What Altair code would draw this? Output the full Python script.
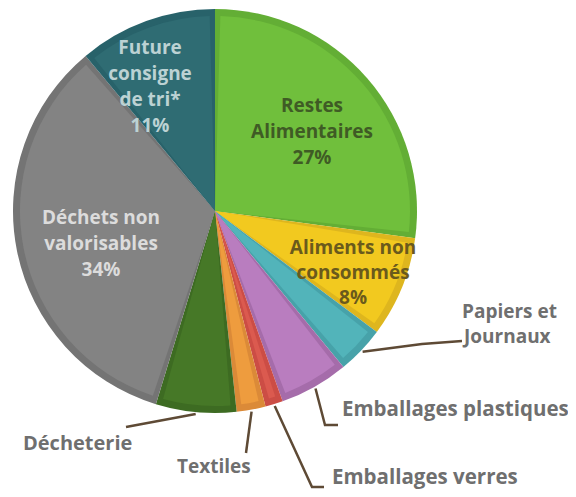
import altair as alt
import pandas as pd
import numpy as np

# ---- data ----
categories = ["Restes Alimentaires", "Aliments non consommés", "Papiers et Journaux",
              "Emballages plastiques", "Emballages verres", "Textiles", "Décheterie",
              "Déchets non valorisables", "Future consigne de tri*"]
shares = [27, 8, 3.8, 5.5, 1.4, 2.3, 6.4, 34, 11]
fill_colors = ["#70BF3C", "#F2C91F", "#52B4BA", "#B97DBF", "#DB5A4F", "#EE9C3E",
               "#467827", "#838383", "#2F6C73"]
edge_colors = ["#63AE35", "#DEB61E", "#47A2A9", "#A56CAA", "#CC4D45", "#DB8A38",
               "#3D6B22", "#747474", "#28626A"]

inner_lines = [
    ["Future", "consigne", "de tri*", "11%"],
    ["Restes", "Alimentaires", "27%"],
    ["Aliments non", "consommés", "8%"],
    ["Déchets non", "valorisables", "34%"],
]
outer_lines = [["Papiers et", "Journaux"], ["Emballages plastiques"], ["Emballages verres"],
               ["Textiles"], ["Décheterie"]]
outer_cats = ["Papiers et Journaux", "Emballages plastiques", "Emballages verres",
              "Textiles", "Décheterie"]

# ---- layout (pixel positions inside the plot frame) ----
W, H = 560, 481
CX, CY, R = 207, 203, 202
BORDER = 7
FONT = "Open Sans"
inner_pos = [(142, 40, 26, "#BCD2D3"), (304, 98, 26, "#3F5B25"),
             (345, 240, 25, "#6A5A1C"), (93, 210, 26, "#DCDCDC")]
outer_pos = [(454, 304, 25, 19), (334, 402, 25, 20.5), (324, 470, 25, 20.5),
             (169, 459, 25, 19), (15, 436, 25, 20)]
leader_bends = [[(414, 336), (454, 333)],
                [(317, 417), (330, 417)],
                [(304, 479), (316, 479)],
                [(238, 445)],
                [(118, 419)]]

df = pd.DataFrame({"cat": categories, "share": shares, "idx": range(len(categories)),
                   "fill": fill_colors, "edge": edge_colors})

# text rows
rows = []
for lines, (x, y, dy, col) in zip(inner_lines, inner_pos):
    for i, t in enumerate(lines):
        rows.append({"t": t, "x": x, "y": y + i * dy, "c": col})
text_in = pd.DataFrame(rows)
rows = []
for lines, (x, y, dy, fs) in zip(outer_lines, outer_pos):
    for i, t in enumerate(lines):
        rows.append({"t": t, "x": x + (2 if i else 0), "y": y + i * dy, "s": fs})
text_out = pd.DataFrame(rows)

# leader lines start at slice mid-angle on the rim
total = sum(shares)
cum = np.cumsum([0] + shares)
lrows = []
for k, (cat, bends) in enumerate(zip(outer_cats, leader_bends)):
    i = categories.index(cat)
    mid = (cum[i] + shares[i] / 2) / total * 2 * np.pi
    sx = CX + (R + 2) * np.sin(mid)
    sy = CY - (R + 2) * np.cos(mid)
    pts = [(sx, sy)] + bends
    for j, (px, py) in enumerate(pts):
        lrows.append({"g": k, "o": j, "x": px, "y": py})
leaders = pd.DataFrame(lrows)

xs = alt.Scale(domain=[0, W], range=[0, W])
ys = alt.Scale(domain=[0, H], range=[0, H])

base = alt.Chart(df).encode(
    theta=alt.Theta("share:Q", stack=True),
    order=alt.Order("idx:Q"),
)
outer = base.mark_arc(outerRadius=R).encode(
    color=alt.Color("edge:N", scale=None),
    x=alt.value(CX), y=alt.value(CY))
inner = base.mark_arc(outerRadius=R - BORDER, padAngle=0.055).encode(
    color=alt.Color("fill:N", scale=None),
    x=alt.value(CX), y=alt.value(CY))

lines = alt.Chart(leaders).mark_line(color="#5E4A35", strokeWidth=2.5).encode(
    x=alt.X("x:Q", scale=xs, axis=None),
    y=alt.Y("y:Q", scale=ys, axis=None),
    detail="g:N", order="o:Q")

tin = alt.Chart(text_in).mark_text(font=FONT, fontWeight="bold", fontSize=19,
                                   align="center", baseline="middle").encode(
    x=alt.X("x:Q", scale=xs, axis=None), y=alt.Y("y:Q", scale=ys, axis=None),
    text="t:N", color=alt.Color("c:N", scale=None))
tout = alt.Chart(text_out).mark_text(font=FONT, fontWeight="bold",
                                     align="left", baseline="middle", color="#6F6F6F").encode(
    x=alt.X("x:Q", scale=xs, axis=None), y=alt.Y("y:Q", scale=ys, axis=None),
    text="t:N", size=alt.Size("s:Q", scale=None))

chart = alt.layer(outer, inner, lines, tin, tout).properties(
    width=W, height=H, padding=0, autosize="none", background="white"
).configure_view(stroke=None)

chart.save("out.html", embed_options={"renderer": "svg", "actions": False})
